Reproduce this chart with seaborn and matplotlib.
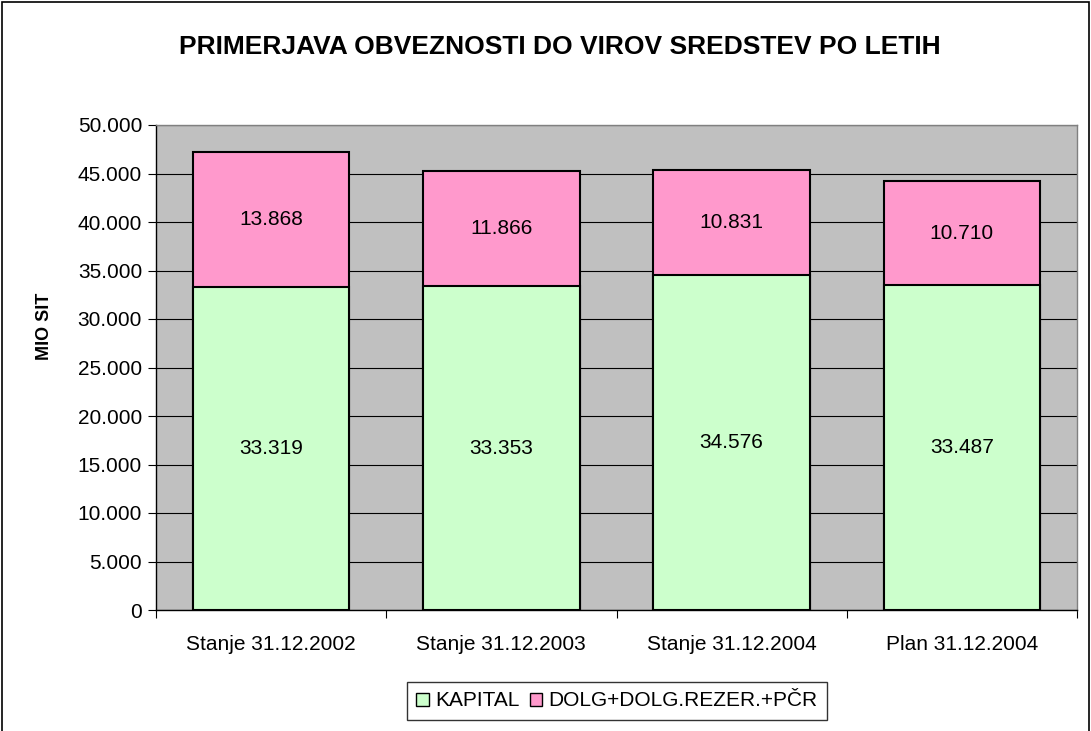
import matplotlib
matplotlib.use("Agg")
import matplotlib.pyplot as plt
import seaborn as sns
import pandas as pd
from matplotlib.patches import Rectangle, Patch
from matplotlib.ticker import FuncFormatter

categories = ["Stanje 31.12.2002", "Stanje 31.12.2003", "Stanje 31.12.2004", "Plan 31.12.2004"]
kapital = [33319, 33353, 34576, 33487]
dolg = [13868, 11866, 10831, 10710]
series_names = ["KAPITAL", "DOLG+DOLG.REZER.+PČR"]
title = "PRIMERJAVA OBVEZNOSTI DO VIROV SREDSTEV PO LETIH"
ylabel = "MIO SIT"

green = "#CCFFCC"
pink = "#FF99CC"

sns.set_theme(style="white")
plt.rcParams['font.family'] = ['Liberation Sans', 'DejaVu Sans']
plt.rcParams['text.color'] = 'black'
plt.rcParams['axes.labelcolor'] = 'black'
plt.rcParams['xtick.color'] = 'black'
plt.rcParams['ytick.color'] = 'black'

fig = plt.figure(figsize=(10.91, 7.31), dpi=100)
ax = fig.add_axes([156/1091, 1-610/731, (1077-156)/1091, (610-125)/731])
ax.set_facecolor("#C0C0C0")

df = pd.DataFrame({"cat": categories, "kapital": kapital, "dolg": dolg})
df["total"] = df["kapital"] + df["dolg"]

sns.barplot(data=df, x="cat", y="total", color=pink, saturation=1, width=0.68,
            edgecolor="black", linewidth=1.5, ax=ax, zorder=3)
sns.barplot(data=df, x="cat", y="kapital", color=green, saturation=1, width=0.68,
            edgecolor="black", linewidth=1.5, ax=ax, zorder=3)

fmt = lambda v: f"{int(v):,}".replace(",", ".")
for i, (k, d) in enumerate(zip(kapital, dolg)):
    ax.text(i, k / 2, fmt(k), ha="center", va="center", fontsize=15, color="black", zorder=5)
    ax.text(i, k + d / 2, fmt(d), ha="center", va="center", fontsize=15, color="black", zorder=5)

ax.set_xlim(-0.5, 3.5)
ax.set_ylim(0, 50000)
ax.set_yticks(range(0, 50001, 5000))
ax.yaxis.set_major_formatter(FuncFormatter(lambda v, p: fmt(v)))
ax.grid(axis="y", color="black", linewidth=0.8, zorder=0)
ax.set_axisbelow(True)
ax.tick_params(axis="y", which="major", left=True, length=6, width=0.8, color="black",
               labelsize=15, pad=4, labelcolor="black")
ax.tick_params(axis="x", which="major", bottom=False, labelsize=15, pad=12, labelcolor="black")
ax.set_xticks([-0.5, 0.5, 1.5, 2.5, 3.5], minor=True)
ax.tick_params(axis="x", which="minor", bottom=True, length=6, width=0.8, color="black")
ax.set_xlabel("")
ax.set_ylabel(ylabel, fontsize=13, fontweight="bold", color="black")
ax.yaxis.set_label_coords((53-156)/921, (610-326)/485)

for s in ["top", "right"]:
    ax.spines[s].set_color("#808080")
    ax.spines[s].set_linewidth(1)
for s in ["left", "bottom"]:
    ax.spines[s].set_color("black")
    ax.spines[s].set_linewidth(1)

fig.text(560/1091, 1-47/731, title, ha="center", va="center", fontsize=19, fontweight="bold",
         color="black")

handles = [Patch(facecolor=green, edgecolor="black", linewidth=1),
           Patch(facecolor=pink, edgecolor="black", linewidth=1)]
leg = fig.legend(handles, series_names, loc="center", bbox_to_anchor=(617/1091, 1-701/731),
                 ncol=2, fontsize=15, frameon=True, fancybox=False, handlelength=0.6,
                 handleheight=0.6, handletextpad=0.3, columnspacing=0.5, borderpad=0.45)
leg.get_frame().set_edgecolor("black")
leg.get_frame().set_linewidth(1)
for t in leg.get_texts():
    t.set_color("black")

fig.patches.append(Rectangle((2/1091, -0.1), 1087/1091, 1.1 - 2/731, transform=fig.transFigure,
                             fill=False, edgecolor="black", linewidth=1.2))

fig.savefig("out.png", dpi=100)
